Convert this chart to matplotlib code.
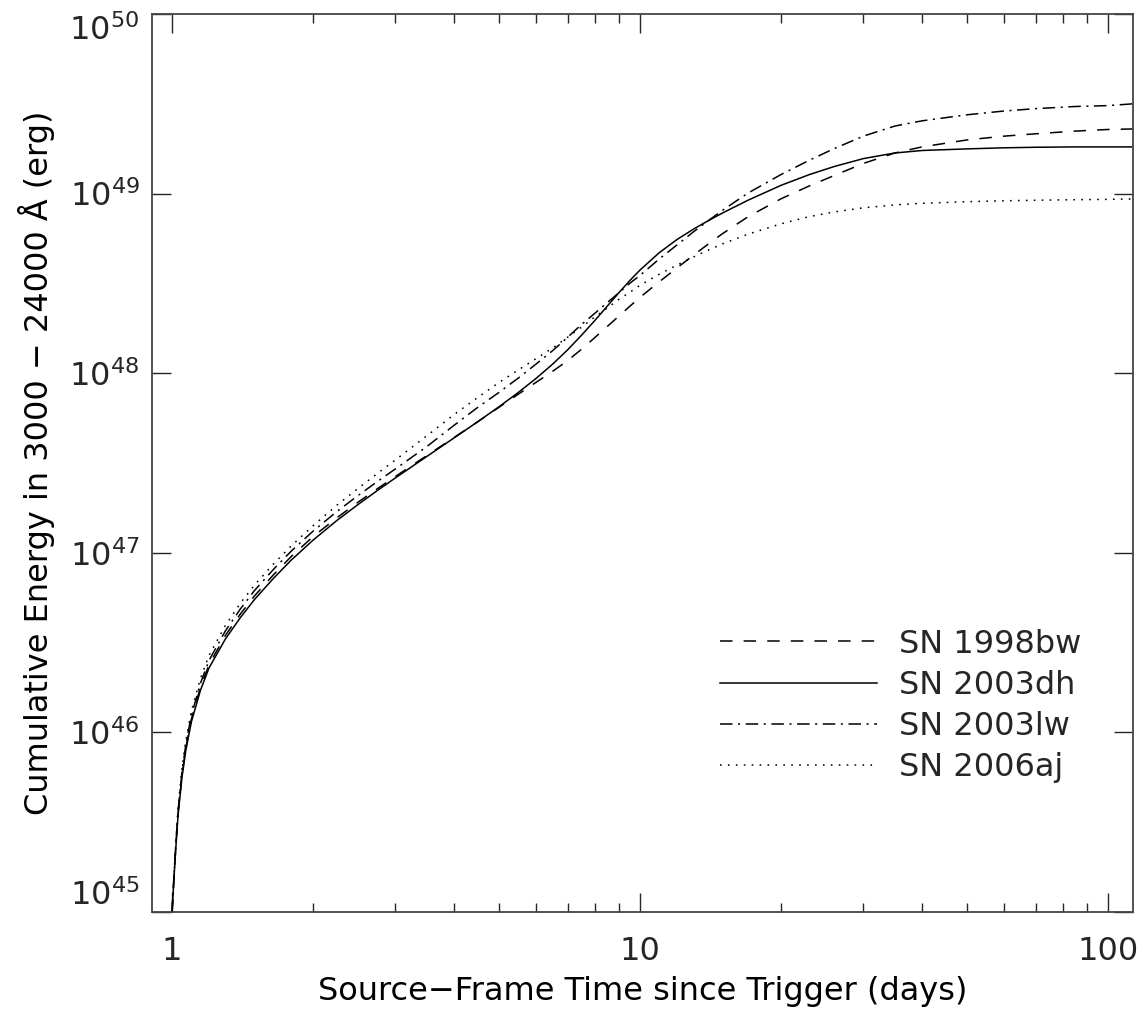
import numpy as np
import matplotlib
matplotlib.use("Agg")
import matplotlib.pyplot as plt
from matplotlib import ticker

# time since trigger (days, source frame)
t_days = [1.0, 1.005, 1.01, 1.02, 1.03, 1.05, 1.07, 1.1, 1.15, 1.2, 1.3, 1.4, 1.5, 1.65, 1.8,
          2.0, 2.25, 2.5, 2.75, 3.0, 3.5, 4.0, 4.5, 5.0, 5.5, 6.0, 6.5, 7.0, 7.5, 8.0, 8.5,
          9.0, 9.5, 10, 11, 12, 13, 14, 15, 17, 20, 23, 26, 30, 35, 40, 50, 60, 70, 85, 100, 113]

# log10 of cumulative energy (erg) for each SN
logE_1998bw = [45.00, 45.103, 45.206, 45.39, 45.55, 45.762, 45.914, 46.075, 46.252, 46.378,
               46.54, 46.66, 46.76, 46.88, 46.981, 47.09, 47.195, 47.283, 47.358, 47.425,
               47.541, 47.641, 47.73, 47.811, 47.884, 47.95, 48.01, 48.07, 48.134, 48.198,
               48.259, 48.317, 48.372, 48.423, 48.51, 48.587, 48.657, 48.72, 48.777, 48.871,
               48.971, 49.043, 49.101, 49.168, 49.226, 49.26, 49.299, 49.32, 49.333, 49.348,
               49.357, 49.36]
logE_2003dh = [45.00, 45.10, 45.20, 45.38, 45.54, 45.75, 45.90, 46.06, 46.235, 46.36,
               46.52, 46.64, 46.74, 46.86, 46.961, 47.07, 47.18, 47.27, 47.348, 47.417,
               47.536, 47.639, 47.73, 47.814, 47.894, 47.972, 48.05, 48.13, 48.212, 48.293,
               48.372, 48.447, 48.515, 48.575, 48.672, 48.745, 48.802, 48.85, 48.892, 48.963,
               49.046, 49.106, 49.151, 49.195, 49.226, 49.24, 49.249, 49.255, 49.258, 49.26,
               49.26, 49.26]
logE_2003lw = [45.00, 45.106, 45.212, 45.398, 45.564, 45.78, 45.933, 46.096, 46.274, 46.402,
               46.565, 46.688, 46.79, 46.91, 47.011, 47.12, 47.23, 47.32, 47.398, 47.467,
               47.591, 47.709, 47.81, 47.894, 47.974, 48.052, 48.125, 48.20, 48.272, 48.333,
               48.392, 48.447, 48.50, 48.545, 48.637, 48.715, 48.787, 48.85, 48.907, 49.003,
               49.106, 49.186, 49.251, 49.32, 49.376, 49.405, 49.439, 49.46, 49.473, 49.485,
               49.49, 49.50]
logE_2006aj = [45.00, 45.11, 45.22, 45.41, 45.58, 45.80, 45.955, 46.12, 46.30, 46.43,
               46.595, 46.72, 46.82, 46.94, 47.04, 47.15, 47.265, 47.36, 47.443, 47.517,
               47.651, 47.769, 47.865, 47.949, 48.019, 48.082, 48.14, 48.20, 48.257, 48.313,
               48.362, 48.41, 48.45, 48.49, 48.552, 48.602, 48.647, 48.686, 48.72, 48.774,
               48.832, 48.872, 48.898, 48.921, 48.937, 48.946, 48.955, 48.96, 48.963, 48.966,
               48.968, 48.97]

names = ["SN 1998bw", "SN 2003dh", "SN 2003lw", "SN 2006aj"]
series = [logE_1998bw, logE_2003dh, logE_2003lw, logE_2006aj]
styles = [(0, (9, 8)), "-", (0, (9, 4, 1.5, 4)), (0, (1.2, 4.5))]

x_ticks = [1, 10, 100]
x_ticklabels = ["1", "10", "100"]
y_ticks = [1e45, 1e46, 1e47, 1e48, 1e49, 1e50]

plt.rcParams["font.family"] = ["DejaVu Sans"]
plt.rcParams["lines.scale_dashes"] = False
plt.rcParams["text.color"] = "#262626"
plt.rcParams["xtick.color"] = "#262626"
plt.rcParams["ytick.color"] = "#262626"

fig = plt.figure(figsize=(11.43, 10.17), dpi=100)
ax = fig.add_axes([152 / 1143, 1 - 912 / 1017, 981 / 1143, 898 / 1017])

for logE, name, ls in zip(series, names, styles):
    ax.plot(t_days, 10 ** np.array(logE), color="black", lw=1.1, ls=ls, label=name)

ax.set_xscale("log")
ax.set_yscale("log")
ax.set_xlim(0.906, 113)
ax.set_ylim(1e45, 1e50)

ax.xaxis.set_major_locator(ticker.FixedLocator(x_ticks))
ax.xaxis.set_major_formatter(ticker.FixedFormatter(x_ticklabels))
ax.xaxis.set_minor_locator(ticker.LogLocator(base=10, subs=np.arange(2, 10)))
ax.xaxis.set_minor_formatter(ticker.NullFormatter())
ax.yaxis.set_major_locator(ticker.FixedLocator(y_ticks))
ax.yaxis.set_major_formatter(ticker.LogFormatterSciNotation())
ax.yaxis.set_minor_locator(ticker.NullLocator())

ax.tick_params(which="both", direction="in", top=True, right=True, labelsize=23)
ax.tick_params(which="major", length=14, width=1.0)
ax.tick_params(which="minor", length=6.5, width=1.0)
ax.tick_params(axis="x", pad=17)
ax.tick_params(axis="y", pad=9)
for s in ax.spines.values():
    s.set_linewidth(1.3)
    s.set_color("#444444")

ax.set_xlabel("Source\u2212Frame Time since Trigger (days)", fontsize=23)
ax.set_ylabel("Cumulative Energy in 3000 \u2212 24000 \u00c5 (erg)", fontsize=23)
ax.xaxis.set_label_coords(0.5, -0.071)
ax.yaxis.set_label_coords(-0.099, 0.5)

ax.legend(loc="center left", bbox_to_anchor=(720 / 1143, 1 - 706 / 1017),
          bbox_transform=fig.transFigure, frameon=False, fontsize=23,
          handlelength=4.9, handletextpad=0.69, labelspacing=0.32,
          borderpad=0, borderaxespad=0)

# keep the end labels inside the axis range
fig.canvas.draw()
ylabels = ax.yaxis.get_ticklabels()
ylabels[0].set_verticalalignment("bottom")
ylabels[-1].set_verticalalignment("top")

fig.savefig("out.png", dpi=100)
